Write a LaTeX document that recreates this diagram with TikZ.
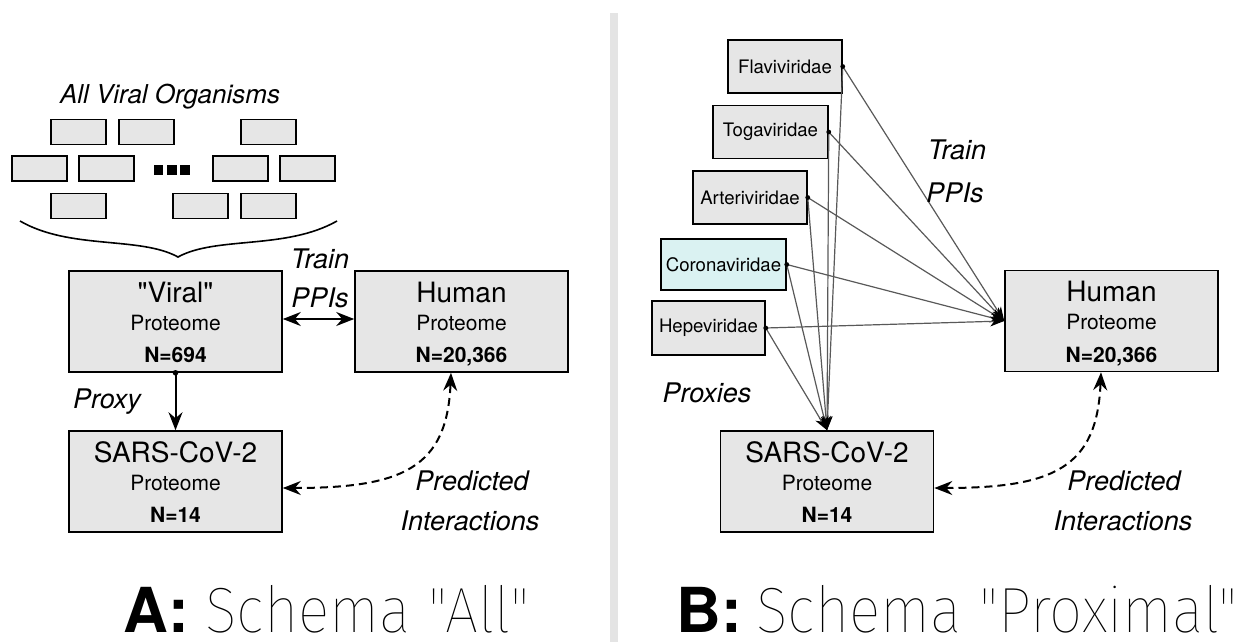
\documentclass[tikz,border=0pt]{standalone}
\usepackage{fontspec}
\setmainfont{TeX Gyre Heros}
\newfontfamily\quotefont{TeX Gyre Heros}
\IfFontExistsTF{Fira Sans Thin}{\newfontfamily\thinfont{Fira Sans Thin}[FakeStretch=0.92]}{%
 \IfFontExistsTF{Fira Sans Light}{\newfontfamily\thinfont{Fira Sans Light}[FakeStretch=0.92]}{%
  \IfFontExistsTF{Lato Light}{\newfontfamily\thinfont{Lato Light}}{%
   \IfFontExistsTF{Open Sans Light}{\newfontfamily\thinfont{Open Sans Light}}{%
    \IfFontExistsTF{DejaVu Sans ExtraLight}{\newfontfamily\thinfont{DejaVu Sans ExtraLight}}{%
     \newfontfamily\thinfont{TeX Gyre Heros}}}}}}
\usetikzlibrary{arrows.meta,positioning}

\definecolor{boxgray}{RGB}{230,230,230}
\definecolor{coronacyan}{RGB}{218,242,242}
\definecolor{bargray}{RGB}{228,228,228}

\tikzset{protbox/.style={draw, fill=boxgray, line width=0.8pt,
         minimum width=106.5pt, minimum height=50.5pt, inner sep=0pt},
         famibox/.style={draw, fill=boxgray, line width=0.75pt,
         minimum height=26.5pt, inner sep=0pt,
         font=\fontsize{9.3}{11}\selectfont},
         orgbox/.style={draw, fill=boxgray, line width=0.6pt,
         minimum width=27.5pt, minimum height=12.5pt, inner sep=0pt},
         lbl/.style={anchor=base, inner sep=0pt,
         font=\fontsize{13.5}{16}\selectfont\itshape},
         schemalbl/.style={anchor=base west, inner sep=0pt, text depth=0pt,
         font=\fontsize{31}{36}\selectfont\bfseries},
         schematext/.style={anchor=base west, inner sep=0pt, text depth=0pt,
         font=\fontsize{32}{36}\selectfont\thinfont},
         ptip/.tip={Stealth[length=9pt,width=7pt,inset=3pt]},
         ppi/.style={draw=black!65, line width=0.6pt,
         -{Stealth[length=7pt,width=5pt,inset=2pt,black]}},
         solidarrow/.style={line width=1pt, -{ptip}},
         bothways/.style={line width=1pt, {ptip}-{ptip}},
         predarrow/.style={line width=1pt, dash pattern=on 4pt off 2.5pt, {ptip}-{ptip}}}

% three text lines of a proteome box
\newcommand\prottext[3]{%
  \node[anchor=base, inner sep=0pt, font=\fontsize{14}{16}\selectfont] (#1-t) at ([yshift=9.75pt]#1.center) {#2};
  \node[anchor=base, inner sep=0pt, font=\fontsize{10.5}{12}\selectfont] (#1-p) at ([yshift=-4.25pt]#1.center) {Proteome};
  \node[anchor=base, inner sep=0pt, font=\fontsize{10.5}{12}\selectfont\bfseries] (#1-n) at ([yshift=-20.5pt]#1.center) {#3};}

\begin{document}
\begin{tikzpicture}[x=0.5pt,y=-0.5pt]
  \useasboundingbox (0,0) rectangle (1242,642);
  \fill[bargray] (610,13) rectangle (618,642);

  % A: all viral organisms
  \node[lbl, font=\fontsize{13}{16}\selectfont\itshape] (allviral) at (170,104) {All Viral Organisms};
  \foreach \x/\y [count=\i] in {78.5/132,146.5/132,268.5/132,39.5/168.5,106.5/168.5,240.5/168.5,307.5/168.5,78.5/206,200.5/206,268.5/206}
    \node[orgbox] (org\i) at (\x,\y) {};
  \foreach \x [count=\i] in {158.5,172,185}
    \node[fill, minimum size=4.75pt, inner sep=0pt] (dot\i) at (\x,170) {};
  \draw[line width=0.8pt] (20,221) .. controls (70,250) and (140,236) .. (178,257)
                                  .. controls (216,236) and (286,250) .. (337,221);

  \node[protbox] (viral) at (175.5,321.5) {};
  \node[protbox] (humanA) at (461.5,321.5) {};
  \node[protbox] (sarsA) at (175.5,481.5) {};
  \prottext{viral}{\quotefont"Viral"}{N=694}
  \prottext{humanA}{Human}{N=20,366}
  \prottext{sarsA}{SARS-CoV-2}{N=14}

  \node[lbl] (trainA) at (320,268) {Train};
  \node[lbl] (ppisA) at (320,307) {PPIs};
  \draw[bothways] ([yshift=1.25pt]viral.east) -- ([yshift=1.25pt]humanA.west);
  \fill (viral.south) circle[radius=1.4pt];
  \draw[solidarrow] (viral.south) -- (sarsA.north);
  \node[lbl] (proxy) at (107,408) {Proxy};
  \draw[predarrow] ([yshift=-3.25pt]sarsA.east) .. controls +(120,0) and +(-4,95) .. ([xshift=-5.25pt]humanA.south);
  \node[lbl] (predA) at (472,490) {Predicted};
  \node[lbl] (interA) at (470,530) {Interactions};

  % B: proximal families
  \node[famibox, minimum width=57pt] (flavi) at (785,66.5) {Flaviviridae};
  \node[famibox, minimum width=57.5pt] (toga) at (770.5,132) {Togaviridae};
  \node[famibox, minimum width=57pt] (arteri) at (750,197.5) {Arteriviridae};
  \node[famibox, fill=coronacyan, minimum width=62.5pt, minimum height=25.5pt] (corona) at (723.5,264.5) {Coronaviridae};
  \node[famibox, minimum width=56.5pt, minimum height=27pt] (hepe) at (708.5,328) {Hepeviridae};

  \node[protbox] (humanB) at (1111.5,321) {};
  \node[protbox] (sarsB) at (827,481.5) {};
  \prottext{humanB}{Human}{N=20,366}
  \prottext{sarsB}{SARS-CoV-2}{N=14}

  \foreach \f in {flavi,toga,arteri,corona,hepe} {
    \draw[ppi] (\f.east) -- (humanB.west);
    \draw[ppi] (\f.east) -- (sarsB.north);
    \fill (\f.east) circle[radius=1.2pt];
  }
  \node[lbl] (trainB) at (957,160) {Train};
  \node[lbl] (ppisB) at (955,202) {PPIs};
  \node[lbl] (proxies) at (707,402) {Proxies};
  \draw[predarrow] ([yshift=-3.25pt]sarsB.east) .. controls +(120,0) and +(-4,95) .. ([xshift=-5.25pt]humanB.south);
  \node[lbl] (predB) at (1124,490) {Predicted};
  \node[lbl] (interB) at (1123,530) {Interactions};

  % panel titles
  \node[schemalbl] (titleA-lab) at (123,632) {A:};
  \node[schematext] (titleA) at (205,632) {Schema "All"};
  \node[schemalbl] (titleB-lab) at (676,632) {B:};
  \node[schematext] (titleB) at (756,632) {Schema "Proximal"};
\end{tikzpicture}
\end{document}
